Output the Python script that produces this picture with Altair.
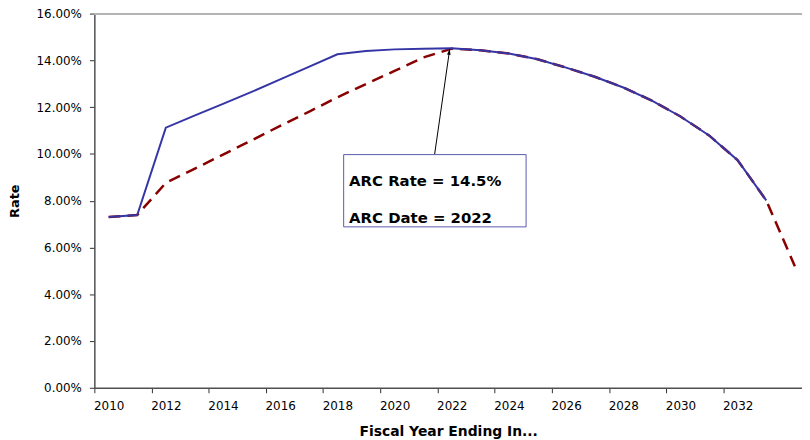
import altair as alt
import pandas as pd

# ---- data ----
years = list(range(2010, 2035))
arc_rate_pct = [7.30, 7.39, 11.12, 11.64, 12.14, 12.65, 13.19, 13.72, 14.26, 14.40,
                14.47, 14.50, 14.52, 14.43, 14.29, 14.05, 13.69, 13.30, 12.84, 12.28,
                11.60, 10.79, 9.73, 8.01, None]
glide_rate_pct = [7.30, 7.39, 8.76, 9.36, 9.97, 10.58, 11.20, 11.80, 12.42, 12.99,
                  13.55, 14.12, 14.50, 14.43, 14.29, 14.05, 13.69, 13.30, 12.84, 12.28,
                  11.60, 10.79, 9.73, 8.01, 5.20]
y_tick_pct = [0, 2, 4, 6, 8, 10, 12, 14, 16]
x_label_years = list(range(2010, 2033, 2))

annotation_lines = ["ARC Rate = 14.5%", "ARC Date = 2022"]
annotation_text_x = [2018.41, 2018.41]
annotation_text_y_pct = [8.64, 7.05]
box_x = [2018.22]
box_x2 = [2024.60]
box_y_pct = [9.97]
box_y2_pct = [6.88]
arrow_from = [2021.40, 9.97]
arrow_to = [2021.93, 14.49]

# ---- tables ----
df_arc = pd.DataFrame({"year": years, "rate": [v / 100 if v is not None else None for v in arc_rate_pct]}).dropna()
df_glide = pd.DataFrame({"year": years, "rate": [v / 100 for v in glide_rate_pct]})
df_text = pd.DataFrame({"x": annotation_text_x, "y": [v / 100 for v in annotation_text_y_pct], "t": annotation_lines})
df_box = pd.DataFrame({"x": box_x, "x2": box_x2, "y": [v / 100 for v in box_y_pct], "y2": [v / 100 for v in box_y2_pct]})
df_arrow = pd.DataFrame({"x": [arrow_from[0]], "y": [arrow_from[1] / 100],
                         "x2": [arrow_to[0]], "y2": [arrow_to[1] / 100]})
df_head = pd.DataFrame({"x": [arrow_to[0]], "y": [arrow_to[1] / 100]})

tick_positions = [y - 0.5 for y in years[:-1]]
label_set = ",".join(str(y) for y in x_label_years)

x_scale = alt.Scale(domain=[2009.5, 2034.25], nice=False, zero=False)
y_scale = alt.Scale(domain=[0, 0.16], nice=False, zero=True)

x_axis = alt.Axis(
    values=tick_positions,
    labelExpr=f"indexof([{label_set}], round(datum.value + 0.5)) >= 0 ? '' + round(datum.value + 0.5) : ''",
    labelOffset=14.4,
    labelFlush=False,
    labelOverlap=False,
    labelBound=False,
    title="Fiscal Year Ending In...",
    grid=False,
    tickSize=5,
    labelPadding=8,
    titlePadding=13,
)
y_axis = alt.Axis(
    values=[v / 100 for v in y_tick_pct],
    format=".2%",
    title="Rate",
    grid=False,
    tickSize=5,
    labelPadding=8,
    titlePadding=15,
    labelFlush=False,
)

X = alt.X("year:Q", scale=x_scale, axis=x_axis)
Y = alt.Y("rate:Q", scale=y_scale, axis=y_axis)

top_border = alt.Chart(df_glide).mark_rule(color="#b4b4b4", strokeWidth=1.2).encode(
    y=alt.datum(0.16, scale=y_scale)
)

glide = alt.Chart(df_glide).mark_line(color="#880000", strokeWidth=2.5, strokeDash=[12, 7]).encode(x=X, y=Y)
arc = alt.Chart(df_arc).mark_line(color="#3535a5", strokeWidth=2).encode(x=X, y=Y)

arrow = alt.Chart(df_arrow).mark_rule(color="black", strokeWidth=1).encode(
    x=alt.X("x:Q", scale=x_scale), y=alt.Y("y:Q", scale=y_scale), x2="x2:Q", y2="y2:Q"
)
head = alt.Chart(df_head).mark_point(
    shape="M0,0 L-1.8,6 L1.8,6 Z", filled=True, color="black", size=4, angle=9.6, opacity=1
).encode(x=alt.X("x:Q", scale=x_scale), y=alt.Y("y:Q", scale=y_scale))

box = alt.Chart(df_box).mark_rect(fill="white", stroke="#5a5ab0", strokeWidth=1).encode(
    x=alt.X("x:Q", scale=x_scale), x2="x2:Q", y=alt.Y("y:Q", scale=y_scale), y2="y2:Q"
)
text = alt.Chart(df_text).mark_text(
    align="left", baseline="alphabetic", font="DejaVu Sans", fontWeight="bold", fontSize=15, color="black"
).encode(x=alt.X("x:Q", scale=x_scale), y=alt.Y("y:Q", scale=y_scale), text="t:N")

chart = alt.layer(top_border, glide, arc, arrow, head, box, text).properties(
    width=713,
    height=377,
    autosize=alt.AutoSizeParams(type="none"),
    padding={"left": 87, "top": 4, "right": 0, "bottom": 50},
    background="white",
).configure_view(stroke=None).configure_axis(
    labelFont="DejaVu Sans",
    labelFontSize=12,
    labelColor="black",
    titleFont="DejaVu Sans",
    titleFontWeight="bold",
    titleColor="black",
    domainColor="#505050",
    domainWidth=1.5,
    tickColor="#303030",
    tickWidth=1,
).configure_axisX(titleFontSize=14).configure_axisY(titleFontSize=13)

chart.save("out.html", embed_options={"renderer": "svg", "actions": False})
